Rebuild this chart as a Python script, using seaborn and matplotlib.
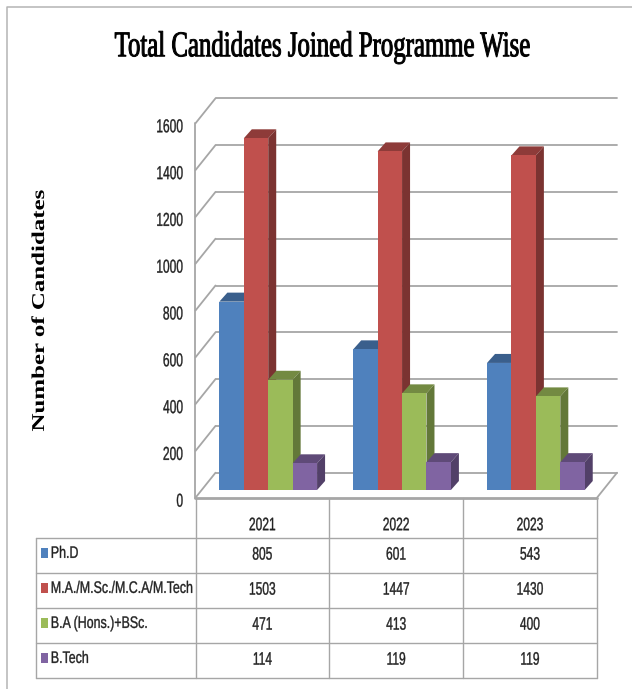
import numpy as np
import pandas as pd
import seaborn as sns
import matplotlib.pyplot as plt
import matplotlib.patheffects as pe
from matplotlib.lines import Line2D
from matplotlib.patches import Polygon, Rectangle
from matplotlib.colors import to_rgb
from matplotlib.transforms import Affine2D

years = ["2021", "2022", "2023"]
programmes = ["Ph.D", "M.A./M.Sc./M.C.A/M.Tech", "B.A (Hons.)+BSc.", "B.Tech"]
phd = [805, 601, 543]
masters = [1503, 1447, 1430]
bachelors = [471, 413, 400]
btech = [114, 119, 119]
y_ticks = [0, 200, 400, 600, 800, 1000, 1200, 1400, 1600]
colors = ["#4F81BD", "#C0504D", "#9BBB59", "#8064A2"]

series = [phd, masters, bachelors, btech]

W, H = 632, 689
GRID = "#A6A6A6"
SANS = ["Liberation Sans", "DejaVu Sans"]
SERIF = ["Liberation Serif", "DejaVu Serif"]


# the source picture is squeezed sideways, no condensed font is installed so scale the glyphs
class Squash(pe.AbstractPathEffect):
    def __init__(self, sx, anchor=0.5, weight=0.25):
        super().__init__()
        self.sx = sx
        self.anchor = anchor
        self.weight = weight

    def draw_path(self, renderer, gc, tpath, affine, rgbFace=None):
        xs = tpath.vertices[:, 0]
        cx = xs.min() + self.anchor * (xs.max() - xs.min())
        pre = Affine2D().translate(-cx, 0).scale(self.sx, 1).translate(cx, 0)
        gc.set_linewidth(self.weight)
        renderer.draw_path(gc, tpath, pre + affine, rgbFace)


sns.set_theme(style="white")
plt.rcParams["font.family"] = SANS

rows = []
for name, vals in zip(programmes, series):
    for yr, v in zip(years, vals):
        rows.append({"year": yr, "programme": name, "value": v})
df = pd.DataFrame(rows)

fig = plt.figure(figsize=(W / 100, H / 100), dpi=100)
fig.patch.set_facecolor("white")

# top and left edge of the pasted chart
fig.add_artist(Line2D([7 / W, 7 / W, 1], [0, 1 - 6.5 / H, 1 - 6.5 / H], transform=fig.transFigure,
                      color="#B4B4B4", lw=1.1))

# main axes = front plane of the fake 3D box
left, right, y0, y1600 = 195.5, 597, 497.7, 123.3
ax = fig.add_axes([left / W, 1 - y0 / H, (right - left) / W, (y0 - y1600) / H])
ax.patch.set_alpha(0)

sns.barplot(data=df, x="year", y="value", hue="programme", order=years, hue_order=programmes,
            palette=colors, width=0.73, saturation=1, legend=False, ax=ax, linewidth=0)
ax.set_xlim(-0.5, 2.5)
ax.set_ylim(0, 1600)

# depth of box and bars, in data units
box_dx, box_dy = 20 / 133.8, 25 / 0.234
off_dx, off_dy = 5.8 / 133.8, 7.7 / 0.234
bar_dx, bar_dy = 8 / 133.8, 9 / 0.234

# walls
for v in y_ticks:
    ax.plot([-0.5, -0.5 + box_dx], [v, v + box_dy], color=GRID, lw=1.3, clip_on=False, zorder=1)
    ax.plot([-0.5 + box_dx, 2.5 + box_dx], [v + box_dy, v + box_dy], color=GRID, lw=1.3,
            clip_on=False, zorder=1)
ax.plot([-0.5, -0.5], [0, 1600], color=GRID, lw=1.3, clip_on=False, zorder=1)
ax.plot([2.5, 2.5 + box_dx], [0, box_dy], color=GRID, lw=1.3, clip_on=False, zorder=1)
ax.plot([-0.5, 2.5], [0, 0], color=GRID, lw=2, clip_on=False, zorder=1)

# extrude the seaborn bars, left to right so nearer ones overlap
bars = [b for b in ax.patches if b.get_height() > 0]
bars = sorted(bars, key=lambda b: b.get_x())
for i, b in enumerate(bars):
    b.set_x(b.get_x() + off_dx)
    b.set_y(off_dy)
    x0, w, h = b.get_x(), b.get_width(), b.get_height()
    c = np.array(to_rgb(b.get_facecolor()[:3]))
    b.set_zorder(3 + i * 0.1 + 0.02)
    top = [(x0, off_dy + h), (x0 + w, off_dy + h), (x0 + w + bar_dx, off_dy + h + bar_dy),
           (x0 + bar_dx, off_dy + h + bar_dy)]
    side = [(x0 + w, off_dy), (x0 + w + bar_dx, off_dy + bar_dy),
            (x0 + w + bar_dx, off_dy + h + bar_dy), (x0 + w, off_dy + h)]
    ax.add_patch(Polygon(top, facecolor=c * 0.74, edgecolor="none", clip_on=False, zorder=3 + i * 0.1))
    ax.add_patch(Polygon(side, facecolor=c * 0.64, edgecolor="none", clip_on=False, zorder=3 + i * 0.1))

ax.set_xticks([])
ax.set_yticks(y_ticks)
ax.set_yticklabels([str(v) for v in y_ticks], fontsize=13.5, color="#222222")
ax.tick_params(axis="y", length=0, pad=8.7)
for t in ax.get_yticklabels():
    t.set_path_effects([Squash(0.64, anchor=1)])
    t.set_transform(t.get_transform() + Affine2D().translate(0, -2.5))
ax.set_xlabel("")
ax.set_ylabel("")
sns.despine(ax=ax, left=True, bottom=True)

# data table under the chart
tab_left, tab_top, tab_bot = 36.5, 497.7, 677.7
tab = fig.add_axes([tab_left / W, 1 - tab_bot / H, (right - tab_left) / W, (tab_bot - tab_top) / H])
tab.patch.set_alpha(0)
label_w = (left - tab_left) / 133.8
head_h = 39.9 / 35
tab.set_xlim(-0.5 - label_w, 2.5)
tab.set_ylim(len(programmes), -head_h)
tab.axis("off")

for k in range(len(programmes) + 1):
    tab.plot([-0.5 - label_w, 2.5], [k, k], color=GRID, lw=1.0, clip_on=False)
tab.plot([-0.5 - label_w] * 2, [0, len(programmes)], color=GRID, lw=1.0, clip_on=False)
for j in range(len(years) + 1):
    tab.plot([j - 0.5, j - 0.5], [-head_h, len(programmes)], color=GRID, lw=1.0, clip_on=False)

for j, yr in enumerate(years):
    tab.text(j, -0.34, yr, ha="center", va="center", fontsize=13, color="#222222",
             path_effects=[Squash(0.665)])
for k, (name, vals, col) in enumerate(zip(programmes, series, colors)):
    tab.add_patch(Rectangle((-0.5 - label_w + 0.031, k + 0.29), 0.057, 0.30, facecolor=col, edgecolor="none"))
    tab.text(-0.5 - label_w + 0.107, k + 0.45, name, ha="left", va="center", fontsize=12, color="#222222",
             path_effects=[Squash(0.745, anchor=0)])
    for j, v in enumerate(vals):
        tab.text(j, k + 0.5, str(v), ha="center", va="center", fontsize=13, color="#222222",
                 path_effects=[Squash(0.665)])

fig.text(322.5 / W, 1 - 47.5 / H, "Total Candidates Joined Programme Wise", ha="center", va="center",
         fontsize=26, family=SERIF, color="black", path_effects=[Squash(0.687, weight=0.7)])
fig.text(39.5 / W, 1 - 311 / H, "Number of Candidates", rotation=90, ha="center", va="center",
         fontsize=13, fontweight="bold", family=SERIF, color="black", path_effects=[Squash(1.38, weight=0)])

fig.savefig("out.png", dpi=100)
